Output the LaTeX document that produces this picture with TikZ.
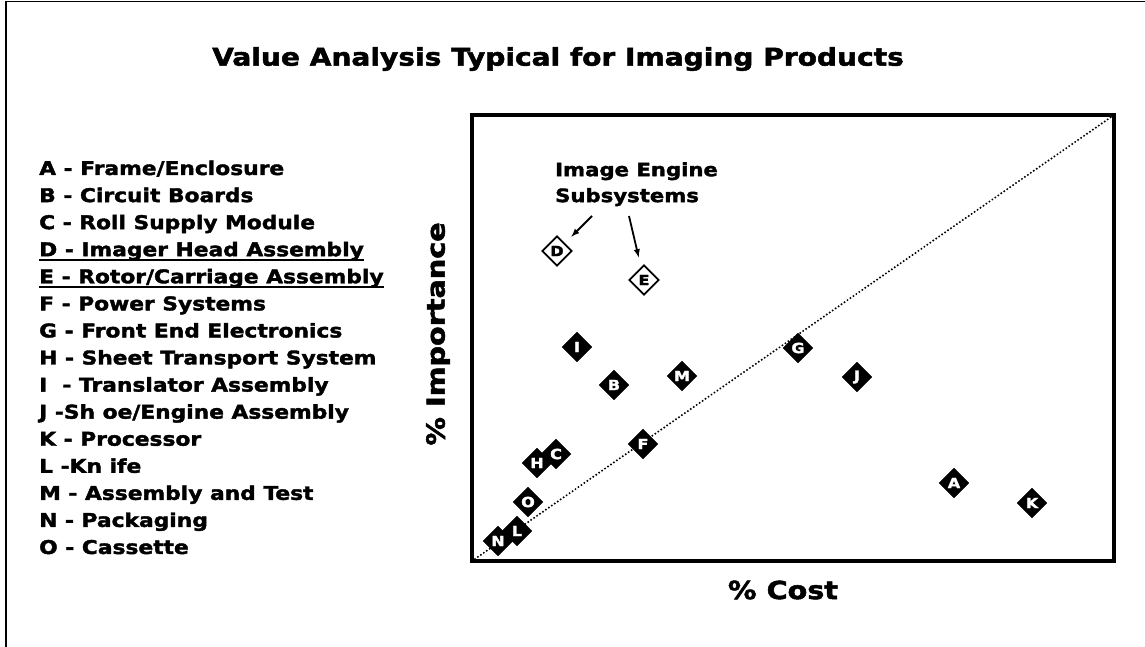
\documentclass[tikz,border=0pt]{standalone}
\usepackage{fontspec}
\setmainfont{DejaVu Sans}[BoldFeatures={FakeStretch=1.15,FakeBold=2}]
\usetikzlibrary{arrows,shapes.geometric,positioning}

\newcommand{\legul}[1]{\setbox0\hbox{#1}\rlap{\raisebox{-4.5bp}{\rule{\wd0}{1.8bp}}}\box0}

\begin{document}
\begin{tikzpicture}[x=1bp,y=-1bp]
\tikzstyle{part}=[diamond,draw=black,fill=black,text=white,inner sep=0pt,minimum width=30bp,minimum height=30bp,font=\bfseries\fontsize{14}{14}\selectfont]
\tikzstyle{subsys}=[part,fill=white,text=black,line width=1.8bp]
\tikzstyle{legend}=[anchor=base west,inner sep=0pt,font=\bfseries\fontsize{19}{20}\selectfont]
\tikzstyle{axislabel}=[inner sep=0pt,font=\bfseries\fontsize{25}{25}\selectfont]
\useasboundingbox (0,0) rectangle (1145,647);
% outer frame
\draw[line width=1.5bp] (6,647) -- (6,1.5) -- (1145,1.5);
\node[inner sep=0pt,font=\bfseries\fontsize{24.5}{25}\selectfont] (title) at (558,59) {Value Analysis Typical for Imaging Products};
% legend
\foreach \t [count=\i from 0] in {A - Frame/Enclosure,B - Circuit Boards,C - Roll Supply Module,\legul{D - Imager Head Assembly},\legul{E - Rotor/Carriage Assembly},F - Power Systems,G - Front End Electronics,H - Sheet Transport System,I\ \ - Translator Assembly,J -Sh oe/Engine Assembly,K - Processor,L -Kn ife,M - Assembly and Test,N - Packaging,O - Cassette}
  \node[legend] (leg\i) at (39,175+27.07*\i) {\t};
% plot area
\coordinate (origin) at (472,561);
\coordinate (corner) at (1114,115);
\draw[line width=3.5bp] (origin) rectangle (corner);
\draw[line width=2.2bp,line cap=round,dash pattern=on 0pt off 3.6bp] (origin) -- (corner);
\node[axislabel] (xlab) at (783,590) {\% Cost};
\node[axislabel,rotate=90] (ylab) at (438,334) {\% Importance};
% parts
\foreach \n/\x/\y in {I/577/347,B/614/385,M/682/376,G/798/348,J/857/377,F/643/444,H/537/463,C/556/454,O/528/502,N/498/541,L/517/531,A/954/483,K/1032/503}
  \node[part] (\n) at (\x,\y) {\n};
\node[subsys] (D) at (557,251) {D};
\node[subsys] (E) at (644,280) {E};
% image engine note
\node[anchor=north west,align=left,inner sep=0pt,font=\bfseries\fontsize{18.5}{26}\selectfont] (note) at (555,162) {Image Engine\\Subsystems};
\coordinate (fromD) at (592,216);
\coordinate (fromE) at (629,216);
\draw[-latex,line width=1.8bp,shorten >=9bp] (fromD) -- (D);
\draw[-latex,line width=1.8bp,shorten >=10bp] (fromE) -- (E);
\end{tikzpicture}
\end{document}
